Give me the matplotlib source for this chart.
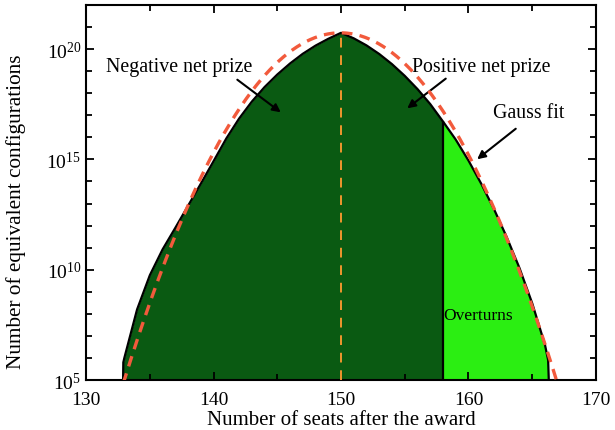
import numpy as np
import matplotlib
matplotlib.use("Agg")
import matplotlib.pyplot as plt

plt.rcParams.update({
    "font.family": "Liberation Serif",
    "mathtext.fontset": "custom",
    "mathtext.rm": "Liberation Serif",
    "mathtext.it": "Liberation Serif:italic",
    "font.size": 14,
})

# --- data (log10 of number of configurations) ---
seats = [132.9, 132.92, 133, 134, 135, 136, 137, 138, 139, 140, 141, 142, 143,
         144, 145, 146, 147, 148, 149, 150, 151, 152, 153, 154, 155, 156, 157,
         158, 159, 160, 161, 162, 163, 164, 165, 166, 166.25, 166.3]
log_configs = [5.0, 5.8, 6.0, 8.2, 9.75, 10.92, 11.9, 12.9, 13.9, 14.92, 15.95,
               16.85, 17.62, 18.28, 18.85, 19.35, 19.79, 20.16, 20.47, 20.74,
               20.49, 20.17, 19.78, 19.32, 18.79, 18.19, 17.51, 16.72, 15.9,
               14.95, 13.9, 12.75, 11.48, 10.08, 8.48, 6.6, 5.9, 5.0]

# Gauss fit parameters
gauss_mu = 149.95
gauss_sigma = 1.991
gauss_log_peak = 20.74

overturn_seat = 158
ymin = 1e5

x = np.array(seats)
y = 10.0 ** np.array(log_configs)

fig, ax = plt.subplots(figsize=(6.15, 4.31), dpi=100)
fig.subplots_adjust(left=0.14, right=0.969, bottom=0.116, top=0.986)

dark = x <= overturn_seat
light = x >= overturn_seat
ax.fill_between(x[dark], ymin, y[dark], color="#0a5a12", lw=0, zorder=1)
ax.fill_between(x[light], ymin, y[light], color="#2bee12", lw=0, zorder=1)
ax.plot(x, y, color="black", lw=1.6, zorder=3)
ax.vlines(overturn_seat, ymin, y[x == overturn_seat][0], color="black", lw=1.6, zorder=3)

xg = np.linspace(132.5, 167.5, 400)
yg = 10 ** gauss_log_peak * np.exp(-(xg - gauss_mu) ** 2 / (2 * gauss_sigma ** 2))
ax.plot(xg, yg, color="#f25a3c", lw=2.4, dashes=(3.2, 2.2), zorder=4)

ax.vlines(150, ymin, y[x == 150][0], color="#f0962e", lw=1.4,
          linestyles=(0, (5, 4)), zorder=4)

ax.set_yscale("log")
ax.set_xlim(130, 170)
ax.set_ylim(1e5, 1e22)
ax.set_xticks([130, 140, 150, 160, 170])
ax.set_xticks(np.arange(135, 170, 10), minor=True)
ax.set_yticks([1e5, 1e10, 1e15, 1e20])
ax.set_yticklabels([r"$10^{5}$", r"$10^{10}$", r"$10^{15}$", r"$10^{20}$"])
ax.set_yticks([10.0 ** k for k in range(5, 23) if k % 5], minor=True)
ax.yaxis.set_minor_formatter(plt.NullFormatter())
ax.tick_params(which="both", direction="in", top=True, right=True, width=1.3,
               labelsize=14)
ax.tick_params(which="major", length=6)
ax.tick_params(which="minor", length=4)
ax.tick_params(axis="x", which="major", pad=8)
for s in ax.spines.values():
    s.set_linewidth(1.5)

ax.set_xlabel("Number of seats after the award", fontsize=15, labelpad=1)
ax.set_ylabel("Number of equivalent configurations", fontsize=15.3)
ax.yaxis.set_label_coords(-0.118, 0.452)

arrow = dict(arrowstyle="-|>", color="black", lw=1.5, mutation_scale=12)
ax.text(131.57, 10 ** 19.23, "Negative net prize", fontsize=14.3, va="center")
ax.annotate("", xy=(145.45, 10 ** 17.06), xytext=(141.69, 10 ** 18.69), arrowprops=arrow)
ax.text(155.57, 10 ** 19.2, "Positive net prize", fontsize=14.3, va="center")
ax.annotate("", xy=(155.02, 10 ** 17.24), xytext=(158.39, 10 ** 18.74), arrowprops=arrow)
ax.text(161.9, 10 ** 17.15, "Gauss fit", fontsize=14.3, va="center")
ax.annotate("", xy=(160.51, 10 ** 14.93), xytext=(163.88, 10 ** 16.47), arrowprops=arrow)
ax.text(158.0, 10 ** 7.95, "Overturns", fontsize=12.5, va="center")

fig.savefig("out.png", dpi=100)
